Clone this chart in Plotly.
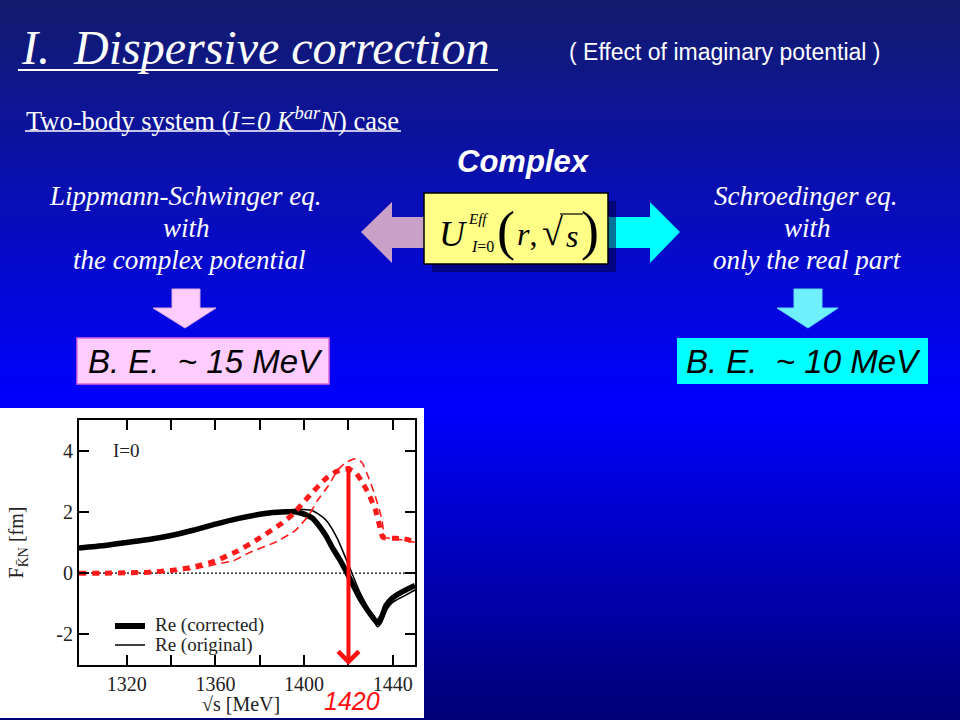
import plotly.graph_objects as go

W, H = 960, 720


def X(px):
    return px / W


def Y(py):
    return 1 - py / H


# ---------------- data ----------------
s_corr = [1298.5, 1310, 1320, 1330, 1340, 1350, 1360, 1370, 1380, 1386, 1390, 1395, 1398,
          1401, 1404, 1407, 1410, 1413, 1416, 1419, 1422, 1425, 1428, 1431, 1433, 1435,
          1437, 1440, 1445, 1450]
re_corr = [0.82, 0.9, 1.0, 1.1, 1.23, 1.4, 1.6, 1.78, 1.92, 1.98, 2.0, 2.0, 1.97,
           1.9, 1.78, 1.52, 1.2, 0.8, 0.45, 0.05, -0.38, -0.8, -1.15, -1.45, -1.62, -1.42,
           -1.05, -0.8, -0.58, -0.4]

s_orig = [1298.5, 1310, 1320, 1330, 1340, 1350, 1360, 1370, 1380, 1386, 1390, 1395, 1400,
          1403, 1406, 1410, 1415, 1418, 1421, 1425, 1430, 1433, 1435, 1437, 1440, 1445, 1450]
re_orig = [0.82, 0.9, 1.0, 1.1, 1.23, 1.4, 1.6, 1.78, 1.92, 1.99, 2.04, 2.08, 2.08,
           2.06, 1.95, 1.72, 1.13, 0.62, 0.1, -0.6, -1.3, -1.75, -1.6, -1.22, -0.95, -0.75, -0.55]

s_im_corr = [1298.5, 1310, 1320, 1330, 1340, 1350, 1360, 1370, 1380, 1390, 1395, 1402,
             1410, 1415, 1420, 1423, 1426, 1429, 1432, 1434, 1435.5, 1440, 1445, 1450]
im_corr = [0.0, 0.0, 0.01, 0.03, 0.09, 0.2, 0.4, 0.72, 1.15, 1.63, 1.93, 2.5,
           3.1, 3.33, 3.4, 3.3, 3.0, 2.6, 2.1, 1.55, 1.17, 1.14, 1.12, 1.03]

s_im_orig = [1298.5, 1310, 1320, 1330, 1340, 1350, 1363, 1368, 1375, 1387, 1396, 1402, 1406,
             1411, 1415, 1419, 1423, 1426, 1429, 1432, 1435, 1436.5, 1441, 1450]
im_orig = [0.0, 0.0, 0.01, 0.02, 0.05, 0.13, 0.33, 0.4, 0.66, 1.01, 1.39, 1.88, 2.37,
           2.86, 3.35, 3.62, 3.73, 3.62, 3.13, 2.53, 1.78, 1.17, 1.12, 1.01]

x_tick_vals = [1320, 1340, 1360, 1380, 1400, 1420, 1440]
x_tick_text = ["1320", "", "1360", "", "1400", "", "1440"]
y_tick_vals = [-2, 0, 2, 4]
y_tick_text = ["-2", "0", "2", "4"]
x_range = [1298.5, 1450]
y_range = [-3, 5]
marker_energy = 1420
arrow_top = 3.55
legend_names = ["Re (corrected)", "Re (original)"]

SERIF = "Liberation Serif"
SANS = "Liberation Sans"
INK = "#222"

fig = go.Figure()

fig.add_trace(go.Scatter(x=s_corr, y=re_corr, mode="lines", name=legend_names[0], showlegend=False,
                         line=dict(color="black", width=5.5, shape="spline", smoothing=0.6)))
fig.add_trace(go.Scatter(x=s_orig, y=re_orig, mode="lines", name=legend_names[1], showlegend=False,
                         line=dict(color="black", width=1.6, shape="spline", smoothing=0.6)))
fig.add_trace(go.Scatter(x=s_im_orig, y=im_orig, mode="lines", showlegend=False,
                         line=dict(color="#ff1a1a", width=1.6, dash="8px,5px",
                                   shape="spline", smoothing=0.5)))
fig.add_trace(go.Scatter(x=s_im_corr, y=im_corr, mode="lines", showlegend=False,
                         line=dict(color="#ff1a1a", width=5, dash="7px,6px",
                                   shape="spline", smoothing=0.5)))

shapes = []


# slide background gradient
def bg(py):
    if py <= 400:
        t = py / 400
        c0, c1 = (18, 28, 108), (0, 0, 255)
    else:
        t = (py - 400) / 320
        c0, c1 = (0, 0, 255), (0, 0, 118)
    return "rgb(%d,%d,%d)" % tuple(round(a + (b - a) * t) for a, b in zip(c0, c1))


step = 6
for py in range(0, H, step):
    shapes.append(dict(type="rect", xref="paper", yref="paper", layer="below",
                       x0=0, x1=1, y0=Y(py + step + 0.5), y1=Y(py),
                       fillcolor=bg(py + step / 2), line=dict(width=0)))


def rect(x0, y0, x1, y1, fill, lc=None, lw=0):
    shapes.append(dict(type="rect", xref="paper", yref="paper", layer="below",
                       x0=X(x0), x1=X(x1), y0=Y(y1), y1=Y(y0), fillcolor=fill,
                       line=dict(color=lc or fill, width=lw)))


def poly(pts, fill, lc=None, lw=0):
    path = "M " + " L ".join("%.5f,%.5f" % (X(a), Y(b)) for a, b in pts) + " Z"
    shapes.append(dict(type="path", xref="paper", yref="paper", layer="below", path=path,
                       fillcolor=fill, line=dict(color=lc or fill, width=lw)))


def hline(x0, x1, y, color="white", w=2, layer="below"):
    shapes.append(dict(type="line", xref="paper", yref="paper", layer=layer,
                       x0=X(x0), x1=X(x1), y0=Y(y), y1=Y(y), line=dict(color=color, width=w)))


# white chart panel
rect(0, 408, 424, 718, "white")

# underlines
hline(18, 498, 70, w=2)
hline(25, 401, 131, w=1.5)

# big side arrows
poly([(361, 232), (392, 202), (392, 217), (424, 217), (424, 248), (392, 248), (392, 263)], "#c8a0c8")
poly([(680, 232), (650, 202), (650, 217), (608, 217), (608, 248), (650, 248), (650, 263)], "#00ffff")
# yellow box with shadow
rect(432, 201, 616, 272, "rgba(0,0,70,0.55)")
rect(424, 193, 608, 264, "#ffff88", "black", 1.5)
hline(560, 583, 214, color="black", w=1.2)

# down arrows
poly([(172, 289), (200, 289), (200, 308), (216, 308), (185, 328), (153, 308), (172, 308)],
     "#ffccff", "#d9a6d9", 1)
poly([(794, 289), (822, 289), (822, 308), (838, 308), (808, 328), (777, 308), (794, 308)],
     "#70f0ff", "#60d8f0", 1)

# result boxes
rect(77, 338, 329, 384, "#ffccff", "#dd66dd", 1.5)
rect(677, 338, 928, 384, "#00ffff")

# zero reference line in the chart
shapes.append(dict(type="line", xref="x domain", yref="y", layer="below", x0=0, x1=1, y0=0, y1=0,
                   line=dict(color="black", width=1.3, dash="2px,2px")))

# legend samples
hline(115, 145, 626, color="black", w=6, layer="above")
hline(115, 145, 645, color="black", w=1.5, layer="above")

annotations = []


def txt(x, y, text, size, family=SERIF, color="white", anchor="center"):
    annotations.append(dict(xref="paper", yref="paper", x=X(x), y=Y(y), text=text,
                            showarrow=False, xanchor=anchor, yanchor="middle",
                            font=dict(family=family, size=size, color=color)))


txt(19, 48, "<i>I.&nbsp; Dispersive correction</i>", 48, anchor="left")
txt(725, 52, "( Effect of imaginary potential )", 23, SANS)
txt(24, 119, "Two-body system (<i>I=0 K<sup>bar</sup>N</i>) case", 26.5, anchor="left")
txt(523, 162, "<b><i>Complex</i></b>", 31, SANS)

txt(185, 196, "<i>Lippmann-Schwinger eq.</i>", 27)
txt(186, 228, "<i>with</i>", 27)
txt(189, 260, "<i>the complex potential</i>", 27)
txt(805, 196, "<i>Schroedinger eq.</i>", 27)
txt(807, 228, "<i>with</i>", 27)
txt(807, 260, "<i>only the real part</i>", 27)

txt(205, 361, "<i>B. E.&nbsp;&nbsp;~ 15 MeV</i>", 33, SANS, "black")
txt(803, 361, "<i>B. E.&nbsp;&nbsp;~ 10 MeV</i>", 33, SANS, "black")

# formula U_{I=0}^{Eff}(r, sqrt s)
txt(453, 234, "<i>U</i>", 36, color="black")
txt(478, 219, "<i>Eff</i>", 15, color="black")
txt(482, 246, "<i>I</i>=0", 16, color="black")
txt(506, 231, "(", 54, color="black")
txt(527, 234, "<i>r</i>,", 32, color="black")
txt(552, 232, "√", 38, color="black")
txt(572, 236, "<i>s</i>", 32, color="black")
txt(590, 231, ")", 54, color="black")

# chart texts
annotations.append(dict(xref="x", yref="y", x=1320, y=4, text="I=0", showarrow=False,
                        xanchor="center", yanchor="middle",
                        font=dict(family=SERIF, size=19, color=INK)))
txt(153, 625, legend_names[0], 19, SERIF, INK, anchor="left")
txt(153, 645, legend_names[1], 19, SERIF, INK, anchor="left")
txt(241, 704, "√s [MeV]", 20, SERIF, INK)
annotations.append(dict(xref="x", yref="y", x=marker_energy, y=y_range[0], ax=marker_energy,
                        ay=arrow_top, axref="x", ayref="y", text="", showarrow=True,
                        arrowhead=4, arrowsize=1, arrowwidth=4, arrowcolor="#ff1010",
                        standoff=0, startstandoff=0))
txt(352, 701, "<i>" + str(marker_energy) + "</i>", 25, SANS, "#ff1010")

fig.update_layout(
    width=W, height=H,
    margin=dict(l=0, r=0, t=0, b=0),
    paper_bgcolor="#0000ff",
    plot_bgcolor="rgba(0,0,0,0)",
    shapes=shapes,
    annotations=annotations,
    showlegend=False,
    xaxis=dict(domain=[X(79), X(415)], range=x_range, tickvals=x_tick_vals, ticktext=x_tick_text,
               ticks="inside", ticklen=10, tickwidth=2, tickcolor="black",
               showline=True, linecolor="black", linewidth=2, mirror="ticks",
               showgrid=False, zeroline=False,
               tickfont=dict(family=SERIF, size=20, color=INK)),
    yaxis=dict(domain=[Y(665), Y(420)], range=y_range, tickvals=y_tick_vals, ticktext=y_tick_text,
               ticks="inside", ticklen=10, tickwidth=2, tickcolor="black",
               showline=True, linecolor="black", linewidth=2, mirror="ticks",
               showgrid=False, zeroline=False,
               tickfont=dict(family=SERIF, size=20, color=INK),
               title=dict(text="F<sub>K̄N</sub> [fm]", font=dict(family=SERIF, size=20, color=INK),
                          standoff=27)),
)

fig.write_html("out.html", config={"displayModeBar": False},
               post_script="document.body.style.margin='0';")
